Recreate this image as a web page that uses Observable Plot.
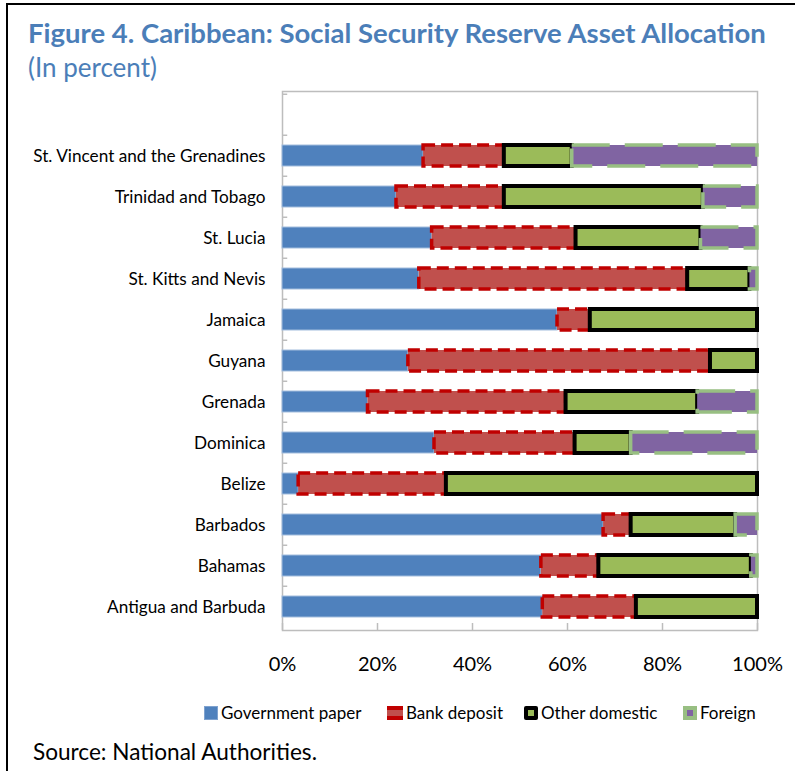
<!DOCTYPE html>
<html><head><meta charset="utf-8">
<script src="https://cdn.jsdelivr.net/npm/d3@7"></script>
<script src="https://cdn.jsdelivr.net/npm/@observablehq/plot@0.6"></script>
<style>
body{margin:0;background:#fff;}
#wrap{position:relative;width:795px;height:771px;font-family:Lato,sans-serif;overflow:hidden;background:#fff;}
#frame{position:absolute;left:6px;top:3px;right:-5px;bottom:-5px;border-top:2px solid #000;border-left:2px solid #000;}
.t{position:absolute;white-space:nowrap;line-height:1.2;}
#title{left:28px;top:16px;font-weight:bold;font-size:27.5px;color:#4B7EB8;}
#subtitle{left:28px;top:52px;font-size:26px;color:#4B7EB8;}
#chart{position:absolute;left:0;top:85px;}
#source{left:33px;top:738px;font-size:22.6px;color:#000;}
.leg{position:absolute;top:702px;font-size:17px;display:flex;align-items:center;white-space:nowrap;}
.leg svg{margin-right:3px;}
</style></head>
<body>
<div id="wrap">
  <div id="frame"></div>
  <div class="t" id="title">Figure 4. Caribbean: Social Security Reserve Asset Allocation</div>
  <div class="t" id="subtitle">(In percent)</div>
  <div id="chart"></div>
  <div id="legend"></div>
  <div class="t" id="source">Source: National Authorities.</div>
</div>
<script>
const categories = ["St. Vincent and the Grenadines","Trinidad and Tobago","St. Lucia","St. Kitts and Nevis","Jamaica","Guyana","Grenada","Dominica","Belize","Barbados","Bahamas","Antigua and Barbuda"];
const seriesNames = ["Government paper","Bank deposit","Other domestic","Foreign"];
const governmentPaper = [29.7, 24.0, 31.5, 28.8, 57.9, 26.5, 18.0, 32.0, 3.4, 67.6, 54.5, 54.8];
const bankDeposit     = [17.0, 22.7, 30.3, 56.5, 6.9, 63.6, 41.7, 29.6, 31.1, 5.8, 12.1, 19.7];
const otherDomestic   = [14.3, 41.9, 26.3, 13.1, 35.2, 9.9, 27.7, 11.8, 65.5, 22.0, 32.1, 25.5];
const foreign         = [39.0, 11.4, 11.9, 1.6, 0, 0, 12.6, 26.6, 0, 4.6, 1.3, 0];
const xTicks = [0, 20, 40, 60, 80, 100];

const seriesValues = [governmentPaper, bankDeposit, otherDomestic, foreign];
const rows = [];
categories.forEach((c, i) => {
  let acc = 0;
  seriesValues.forEach((arr, s) => {
    const v = arr[i];
    if (v > 0) rows.push({country: c, series: seriesNames[s], x1: acc, x2: acc + v});
    acc += v;
  });
});

const styles = {
  "Government paper": {fill: "#4F81BD", stroke: "#A3BDDD", strokeWidth: 1},
  "Bank deposit": {fill: "#C0504D", stroke: "#C00000", strokeWidth: 3.5, strokeDasharray: "12,6"},
  "Other domestic": {fill: "#9BBB59", stroke: "#000000", strokeWidth: 4},
  "Foreign": {fill: "#8064A2", stroke: "#98BF82", strokeWidth: 3.5, strokeDasharray: "38,15"}
};

const W = 795, H = 605, mT = 6, mB = 60, mL = 282, mR = 38;
const domainY = ["", ...categories];
const bw = (H - mT - mB) / domainY.length;
const grey = "#BDBDBD";

const chart = Plot.plot({
  width: W, height: H, marginTop: mT, marginBottom: mB, marginLeft: mL, marginRight: mR,
  style: {fontFamily: "Lato, sans-serif", background: "transparent", color: "#000"},
  x: {domain: [0, 100], label: null},
  y: {domain: domainY, paddingInner: 0.5, paddingOuter: 0.25, label: null},
  marks: [
    Plot.frame({stroke: grey, strokeWidth: 1.5}),
    Plot.ruleY(domainY, {y: d => d, x1: 0, x2: 1.1, dy: -bw / 2, stroke: grey, strokeWidth: 1.5}),
    Plot.tickX(xTicks, {x: d => d, insetTop: H - mT - mB - 7, stroke: grey, strokeWidth: 1.5}),
    ...seriesNames.map(s => Plot.barX(rows.filter(r => r.series === s), {x1: "x1", x2: "x2", y: "country", ...styles[s]})),
    Plot.axisX(xTicks, {tickSize: 0, tickPadding: 26, tickFormat: d => d + "%", fontSize: 20, label: null}),
    Plot.axisY({tickSize: 0, tickPadding: 17, fontSize: 17.2, label: null})
  ]
});
document.getElementById("chart").appendChild(chart);

// legend
const icons = {
  "Government paper": `<svg width="14" height="14"><rect x="0.5" y="0.5" width="13" height="13" fill="#4F81BD" stroke="#7FA2CF"/></svg>`,
  "Bank deposit": `<svg width="16" height="14"><rect x="0" y="1" width="16" height="12" fill="#C0504D"/><rect x="0" y="0" width="16" height="4" fill="#C00000"/><rect x="0" y="10" width="16" height="4" fill="#C00000"/></svg>`,
  "Other domestic": `<svg width="14" height="14"><rect x="0" y="0" width="14" height="14" rx="2" fill="#000"/><rect x="4" y="4" width="6" height="6" fill="#9BBB59"/></svg>`,
  "Foreign": `<svg width="14" height="14"><rect x="0" y="0" width="14" height="14" fill="#98BF82"/><rect x="4" y="4" width="6" height="6" fill="#8064A2"/></svg>`
};
const legendX = [204, 387, 524, 683];
const leg = document.getElementById("legend");
seriesNames.forEach((s, i) => {
  const d = document.createElement("div");
  d.className = "leg";
  d.style.left = legendX[i] + "px";
  d.innerHTML = icons[s] + `<span>${s}</span>`;
  leg.appendChild(d);
});
</script>
</body></html>
